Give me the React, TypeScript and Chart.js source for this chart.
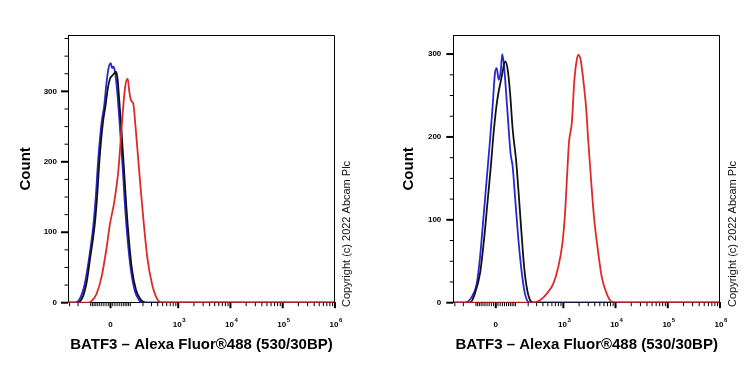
import React, { useEffect, useRef } from 'react';
import { Chart, registerables } from 'chart.js';

Chart.register(...registerables);

const FONT = "'Liberation Sans', Arial, Helvetica, sans-serif";

const xTitle = 'BATF3 – Alexa Fluor®488 (530/30BP)';
const yTitle = 'Count';
const copyrightText = 'Copyright (c) 2022 Abcam Plc';

// biexponential display: channel (0..1024) = ZERO_CH + SCALE_CH * asinh(value / LIN_WIDTH)
const ZERO_CH = 163;
const SCALE_CH = 87.05;
const LIN_WIDTH = 101.5;
const toChannel = (v: number) => ZERO_CH + SCALE_CH * Math.asinh(v / LIN_WIDTH);

const xMajorValues = [0, 1e3, 1e4, 1e5, 1e6];
// [base, exponent]
const xMajorLabels: [string, string][] = [['0', ''], ['10', '3'], ['10', '4'], ['10', '5'], ['10', '6']];
const xMinorValues = [
  -300, -200, -100, -90, -80, -70, -60, -50, -40, -30, -20, -10,
  10, 20, 30, 40, 50, 60, 70, 80, 90, 100, 200, 300, 400, 500, 600, 700, 800, 900,
  2000, 3000, 4000, 5000, 6000, 7000, 8000, 9000,
  20000, 30000, 40000, 50000, 60000, 70000, 80000, 90000,
  200000, 300000, 400000, 500000, 600000, 700000, 800000, 900000,
];
const yMajorValues = [0, 100, 200, 300];
const yMinorStep = 25;

// ---- Left panel histograms (x: display channel 0..1024, y: count)
const leftBlueCh = [0, 27, 46, 65, 82, 97, 106, 116, 129, 139, 148, 155, 164, 169, 174, 180, 189, 199, 210, 219, 229, 241, 257, 272, 288, 1024];
const leftBlueCount = [0, 0, 6, 28, 66, 109, 147, 204, 256, 280, 313, 332, 340, 333, 335, 328, 299, 250, 190, 135, 88, 47, 16, 4, 0, 0];
const leftBlackCh = [0, 35, 54, 71, 86, 102, 111, 121, 134, 144, 153, 161, 169, 176, 184, 190, 196, 205, 215, 224, 234, 245, 261, 278, 299, 1024];
const leftBlackCount = [0, 0, 6, 28, 66, 109, 147, 204, 256, 280, 305, 318, 322, 325, 328, 318, 290, 245, 188, 135, 88, 48, 18, 5, 0, 0];
const leftRedCh = [0, 77, 92, 110, 129, 148, 161, 176, 186, 193, 202, 210, 219, 229, 235, 242, 250, 259, 269, 278, 290, 305, 322, 341, 361, 1024];
const leftRedCount = [0, 0, 3, 13, 37, 78, 112, 140, 165, 187, 230, 270, 306, 318, 300, 287, 283, 250, 205, 165, 115, 62, 27, 6, 0, 0];

// ---- Right panel histograms
const rightBlueCh = [0, 45, 71, 90, 103, 115, 128, 141, 151, 160, 167, 174, 182, 188, 195, 202, 211, 220, 228, 237, 250, 263, 275, 288, 302, 1024];
const rightBlueCount = [0, 0, 7, 23, 56, 100, 148, 196, 237, 277, 283, 269, 279, 300, 285, 257, 217, 180, 164, 128, 76, 36, 11, 1, 0, 0];
const rightBlackCh = [0, 64, 83, 103, 118, 131, 144, 156, 169, 186, 199, 209, 218, 228, 241, 250, 260, 272, 284, 297, 310, 1024];
const rightBlackCount = [0, 0, 11, 36, 76, 120, 164, 209, 245, 273, 291, 281, 253, 209, 172, 136, 92, 43, 15, 2, 0, 0];
const rightRedCh = [0, 301, 333, 359, 384, 403, 419, 429, 438, 444, 455, 465, 474, 480, 489, 499, 510, 518, 529, 540, 555, 570, 589, 608, 625, 1024];
const rightRedCount = [0, 0, 3, 11, 23, 43, 72, 108, 160, 193, 217, 269, 293, 299, 293, 269, 235, 196, 148, 104, 64, 31, 11, 1, 0, 0];

const RED = '#dc2a2a';
const BLACK = '#111111';
const BLUE = '#2626d6';

const zip = (xs: number[], ys: number[]) => xs.map((x, i) => ({ x, y: ys[i] }));

type PanelCfg = {
  blue: { x: number; y: number }[];
  black: { x: number; y: number }[];
  red: { x: number; y: number }[];
  yMax: number;
  yAxisWidth: number;
  padRight: number;
  yTitlePad: number;
  yTickPad: number;
  copyrightX: number;
};

const leftPanel: PanelCfg = {
  blue: zip(leftBlueCh, leftBlueCount),
  black: zip(leftBlackCh, leftBlackCount),
  red: zip(leftRedCh, leftRedCount),
  yMax: 380,
  yAxisWidth: 68,
  padRight: 40,
  yTitlePad: 16.5,
  yTickPad: 11,
  copyrightX: 347,
};

const rightPanel: PanelCfg = {
  blue: zip(rightBlueCh, rightBlueCount),
  black: zip(rightBlackCh, rightBlackCount),
  red: zip(rightRedCh, rightRedCount),
  yMax: 323,
  yAxisWidth: 78.3,
  padRight: 30,
  yTitlePad: 24.5,
  yTickPad: 12,
  copyrightX: 357.5,
};

function makeConfig(p: PanelCfg): any {
  const decor = {
    id: 'decor',
    afterDraw(chart: any) {
      const { ctx, chartArea: a } = chart;
      const xs = chart.scales.x;
      const ys = chart.scales.y;
      ctx.save();
      ctx.strokeStyle = '#000';
      // frame top / right
      ctx.lineWidth = 1;
      ctx.beginPath();
      ctx.moveTo(a.left, a.top + 0.5);
      ctx.lineTo(a.right - 0.5, a.top + 0.5);
      ctx.lineTo(a.right - 0.5, a.bottom);
      ctx.stroke();
      // x tick marks
      const vline = (px: number, len: number, w: number) => {
        ctx.lineWidth = w;
        ctx.beginPath();
        ctx.moveTo(px, a.bottom);
        ctx.lineTo(px, a.bottom + len);
        ctx.stroke();
      };
      xMinorValues.forEach((v) => vline(xs.getPixelForValue(toChannel(v)), 3.5, 1));
      xMajorValues.forEach((v) => vline(xs.getPixelForValue(toChannel(v)), 5.5, 2));
      // x tick labels with superscript exponents
      ctx.fillStyle = '#000';
      ctx.textBaseline = 'alphabetic';
      ctx.textAlign = 'left';
      xMajorValues.forEach((v, i) => {
        const px = xs.getPixelForValue(toChannel(v));
        const [base, exp] = xMajorLabels[i];
        ctx.font = `bold 8px ${FONT}`;
        const w1 = ctx.measureText(base).width;
        ctx.font = `bold 6px ${FONT}`;
        const w2 = exp ? ctx.measureText(exp).width + 0.5 : 0;
        const x0 = px - (w1 + w2) / 2 + (exp ? 1 : 0);
        ctx.font = `bold 8px ${FONT}`;
        ctx.fillText(base, x0, a.bottom + 24.5);
        if (exp) {
          ctx.font = `bold 6px ${FONT}`;
          ctx.fillText(exp, x0 + w1 + 0.5, a.bottom + 19.5);
        }
      });
      // y tick marks
      for (let v = 0; v <= p.yMax; v += yMinorStep) {
        const py = ys.getPixelForValue(v);
        const major = yMajorValues.includes(v);
        ctx.lineWidth = major ? 2 : 1;
        ctx.beginPath();
        ctx.moveTo(a.left, py);
        ctx.lineTo(a.left - (major ? 7 : 3.5), py);
        ctx.stroke();
      }
      // copyright
      ctx.fillStyle = '#111';
      ctx.font = `11px ${FONT}`;
      ctx.textAlign = 'left';
      ctx.textBaseline = 'middle';
      ctx.translate(p.copyrightX, 307);
      ctx.rotate(-Math.PI / 2);
      ctx.fillText(copyrightText, 0, 0);
      ctx.restore();
    },
  };

  const line = (data: any[], color: string) => ({
    data,
    borderColor: color,
    backgroundColor: color,
    borderWidth: 1.8,
    pointRadius: 0,
    fill: false,
    cubicInterpolationMode: 'monotone',
  });

  return {
    type: 'line',
    data: {
      datasets: [line(p.red, RED), line(p.black, BLACK), line(p.blue, BLUE)],
    },
    options: {
      animation: false,
      responsive: false,
      maintainAspectRatio: false,
      layout: { padding: { left: 0, right: p.padRight, top: 35, bottom: 0 } },
      plugins: { legend: { display: false }, tooltip: { enabled: false } },
      scales: {
        x: {
          type: 'linear',
          position: 'bottom',
          min: 0,
          max: 1024,
          afterFit: (s: any) => {
            s.height = 375 - 302.7;
          },
          afterBuildTicks: (s: any) => {
            s.ticks = xMajorValues.map((v) => ({ value: toChannel(v) }));
          },
          ticks: { display: false },
          grid: { display: true, drawOnChartArea: false, drawTicks: false },
          border: { display: true, color: '#000', width: 1 },
          title: {
            display: true,
            text: xTitle,
            color: '#000',
            font: { family: FONT, size: 15, weight: 'bold' },
            padding: { top: 0, bottom: 21 },
          },
        },
        y: {
          type: 'linear',
          min: 0,
          max: p.yMax,
          afterFit: (s: any) => {
            s.width = p.yAxisWidth;
          },
          afterBuildTicks: (s: any) => {
            s.ticks = yMajorValues.map((v) => ({ value: v }));
          },
          ticks: {
            autoSkip: false,
            padding: p.yTickPad,
            color: '#000',
            font: { family: FONT, size: 8, weight: 'bold' },
            callback: (v: any) => String(v),
          },
          grid: { display: true, drawOnChartArea: false, drawTicks: false },
          border: { display: true, color: '#000', width: 1 },
          title: {
            display: true,
            text: yTitle,
            color: '#000',
            font: { family: FONT, size: 15, weight: 'bold' },
            padding: { top: p.yTitlePad, bottom: 0 },
          },
        },
      },
    },
    plugins: [decor],
  };
}

function Panel({ cfg }: { cfg: PanelCfg }) {
  const ref = useRef<HTMLCanvasElement | null>(null);
  useEffect(() => {
    if (!ref.current) return;
    const chart = new Chart(ref.current, makeConfig(cfg));
    return () => chart.destroy();
  }, [cfg]);
  return <canvas ref={ref} width={375} height={375} style={{ display: 'block', width: 375, height: 375 }} />;
}

export default function App() {
  return (
    <div style={{ position: 'absolute', left: 0, top: 0, width: 750, height: 375, display: 'flex', background: '#fff' }}>
      <Panel cfg={leftPanel} />
      <Panel cfg={rightPanel} />
    </div>
  );
}
